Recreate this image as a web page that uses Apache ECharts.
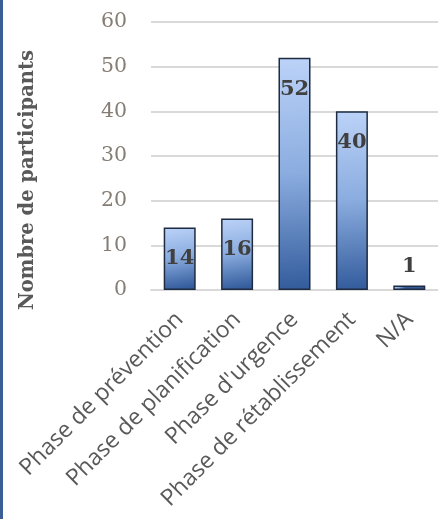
<!DOCTYPE html>
<html><head><meta charset="utf-8">
<script src="https://cdn.jsdelivr.net/npm/echarts@6/dist/echarts.min.js"></script>
<style>html,body{margin:0;padding:0;background:#fff}#c{width:438px;height:519px}</style>
</head><body><div id="c"></div>
<script>
const categories = ["Phase de prévention", "Phase de planification", "Phase d'urgence", "Phase de rétablissement", "N/A"];
const values = [14, 16, 52, 40, 1];
const yTicks = [0, 10, 20, 30, 40, 50, 60];
const yTitle = "Nombre de participants";

const chart = echarts.init(document.getElementById('c'), null, {renderer: 'canvas'});
const barColor = new echarts.graphic.LinearGradient(0, 0, 0.35, 1, [
  {offset: 0, color: '#bcd3f8'},
  {offset: 0.5, color: '#8aacdf'},
  {offset: 1, color: '#335c9c'}
]);
chart.setOption({
  animation: false,
  graphic: [
    {type: 'rect', left: 0, top: 0, shape: {width: 3, height: 519}, style: {fill: '#3a5f96'}},
    {type: 'text', x: 28, y: 180, rotation: Math.PI / 2,
     style: {text: yTitle, align: 'center', verticalAlign: 'middle', fill: '#595959',
             font: 'bold 19.5px "DejaVu Serif"'}}
  ],
  grid: {left: 151, right: -4, top: 22, bottom: 229, containLabel: false},
  xAxis: {
    type: 'category', data: categories,
    axisLine: {show: true, lineStyle: {color: '#d9d9d9', width: 2}},
    axisTick: {show: false},
    axisLabel: {rotate: 45, interval: 0, margin: 26, color: '#595959', fontFamily: 'Open Sans', fontSize: 23}
  },
  yAxis: {
    type: 'value', min: yTicks[0], max: yTicks[yTicks.length - 1], interval: 10,
    axisLine: {show: false}, axisTick: {show: false},
    axisLabel: {margin: 24, color: '#867d74', fontFamily: 'DejaVu Serif', fontSize: 20.5},
    splitLine: {lineStyle: {color: '#d9d9d9', width: 2}}
  },
  series: [{
    type: 'bar', data: values.map((v, i) => ({
      value: v,
      label: v < 5 ? {position: 'top', distance: 8} : {position: 'insideTop', distance: 21}
    })),
    barWidth: 32,
    itemStyle: {color: barColor, borderColor: '#1e2b40', borderWidth: 1.5},
    label: {show: true, color: '#404040', fontFamily: 'DejaVu Serif', fontWeight: 'bold', fontSize: 21}
  }]
});
</script></body></html>
